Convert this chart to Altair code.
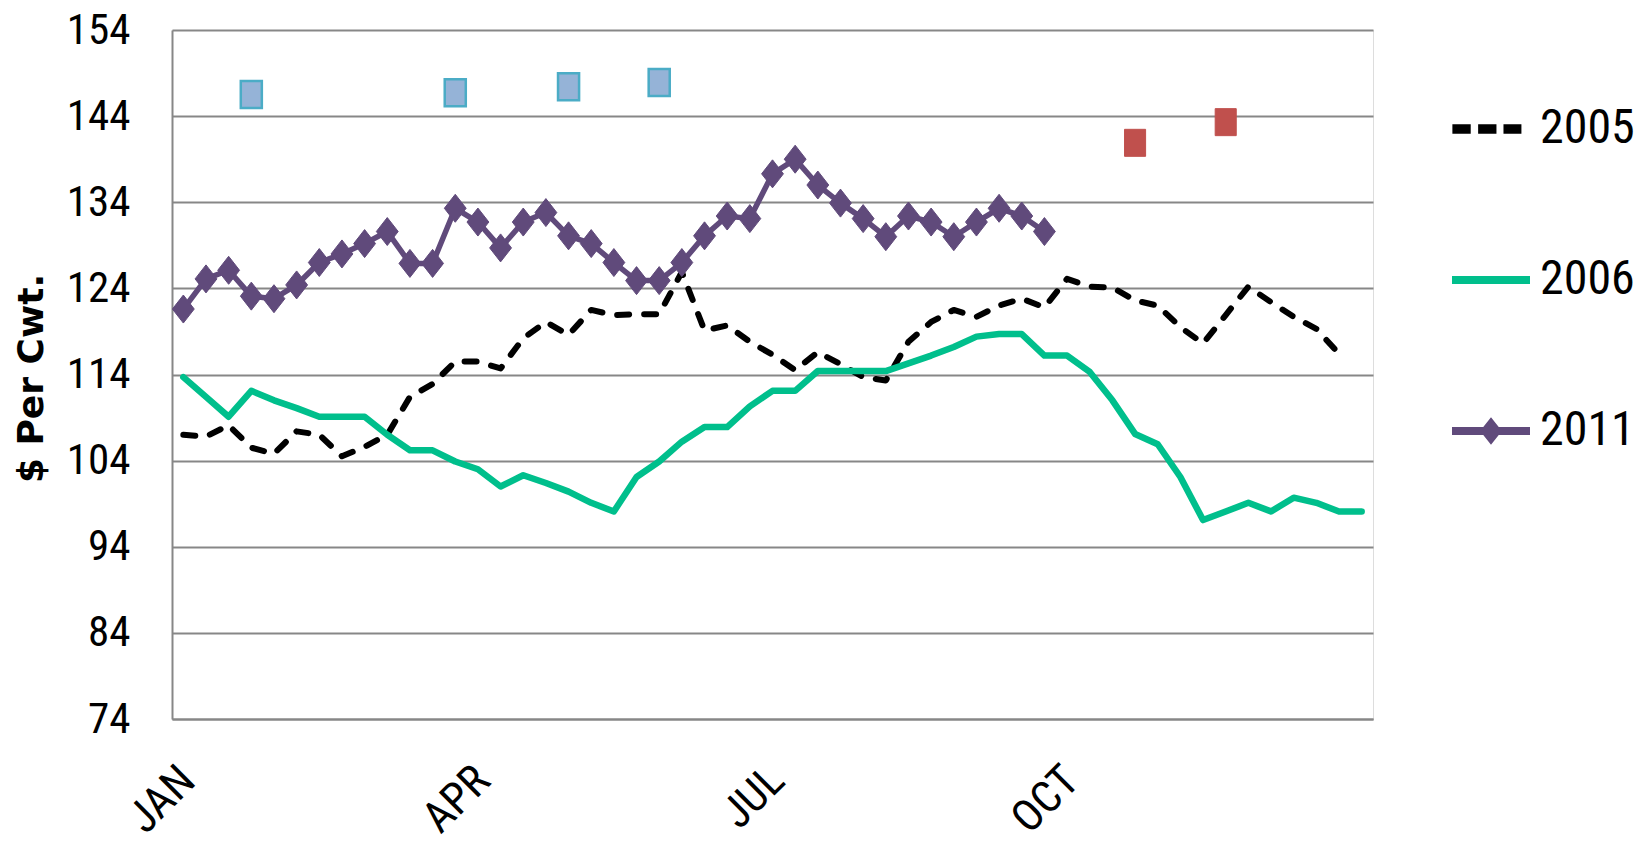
import altair as alt
import pandas as pd

# ---------------- data ----------------
series_names = ["2005", "2006", "2011"]
series_colors = ["#000000", "#00BF8C", "#604A7B"]

y2005 = [107.0, 106.8, 108.1, 105.5, 104.8, 107.4, 107.0, 104.5, 105.6, 107.0,
         111.4, 112.9, 115.5, 115.5, 114.7, 118.2, 120.1, 118.6, 121.5, 120.9,
         121.0, 121.0, 125.9, 119.1, 119.7, 117.8, 116.3, 114.5, 116.6, 115.2,
         113.7, 113.3, 117.8, 120.1, 121.5, 120.7, 122.0, 122.8, 121.8, 125.1,
         124.2, 124.1, 122.6, 122.0, 119.5, 117.6, 120.9, 124.2, 122.4, 120.7,
         119.3, 116.4]

y2006 = [113.7, 111.4, 109.1, 112.1, 111.0, 110.1, 109.1, 109.1, 109.1, 107.0,
         105.2, 105.2, 103.9, 103.0, 101.0, 102.3, 101.4, 100.4, 99.1, 98.1,
         102.1, 103.9, 106.2, 107.9, 107.9, 110.3, 112.1, 112.1, 114.4, 114.4,
         114.4, 114.4, 115.3, 116.2, 117.2, 118.4, 118.7, 118.7, 116.2, 116.2,
         114.3, 111.0, 107.1, 105.9, 102.1, 97.1, 98.1, 99.1, 98.1, 99.7,
         99.1, 98.1, 98.1]

y2011 = [121.6, 125.1, 126.1, 123.1, 122.8, 124.4, 127.0, 128.0, 129.2, 130.6,
         126.9, 126.9, 133.3, 131.7, 128.7, 131.7, 132.8, 130.1, 129.2, 127.0,
         124.9, 124.9, 127.0, 130.1, 132.4, 132.1, 137.3, 139.0, 136.0, 133.9,
         132.1, 130.0, 132.4, 131.7, 130.0, 131.7, 133.3, 132.4, 130.6]

blue_weeks = [3, 12, 17, 21]
blue_values = [146.5, 146.7, 147.4, 147.9]
red_weeks = [42, 46]
red_values = [140.9, 143.3]

month_labels = ["JAN", "APR", "JUL", "OCT"]
month_weeks = [0, 13, 26, 39]
y_ticks = [74, 84, 94, 104, 114, 124, 134, 144, 154]

# ---------------- tables ----------------
def frame(vals, name):
    return pd.DataFrame({"week": list(range(len(vals))), "price": vals, "series": name})

df05 = frame(y2005, "2005")
df06 = frame(y2006, "2006")
df11 = frame(y2011, "2011")
df_all = pd.concat([df05, df06, df11], ignore_index=True)
df_blue = pd.DataFrame({"week": blue_weeks, "price": blue_values})
df_red = pd.DataFrame({"week": red_weeks, "price": red_values})

FONT = "'Roboto Condensed', 'DejaVu Sans Condensed', Roboto, sans-serif"
GRID = "#878787"

label_expr = " : ".join(
    f"datum.value == {w} ? '{m}'" for w, m in zip(month_weeks, month_labels)
) + " : ''"

x_enc = alt.X(
    "week:Q",
    scale=alt.Scale(domain=[-0.5, 52.5], nice=False, zero=False),
    axis=alt.Axis(
        values=month_weeks, labelExpr=label_expr, title=None, grid=False, ticks=False,
        domainColor=GRID, domainWidth=2, labelFont=FONT, labelFontSize=44,
        labelColor="#000000", labelAngle=-45, labelAlign="right", labelBaseline="top",
        labelPadding=39, labelOffset=-11,
    ),
)
y_enc = alt.Y(
    "price:Q",
    scale=alt.Scale(domain=[74, 154], nice=False, zero=False),
    axis=alt.Axis(
        values=y_ticks, title="$ Per Cwt.", grid=True, gridColor=GRID, gridWidth=2,
        ticks=False, domainColor=GRID, domainWidth=2, labelFont=FONT,
        labelFontSize=43, labelColor="#000000", labelPadding=42,
        titleFont="DejaVu Sans", titleFontWeight="bold", titleFontSize=36,
        titleColor="#000000", titleX=-130, titleY=348, titleAngle=-90,
        titleAlign="center", titleBaseline="alphabetic",
    ),
)

diamond = "M0,-1 L0.78,0 L0,1 L-0.78,0 Z"
rect = "M-0.78,-1 L0.78,-1 L0.78,1 L-0.78,1 Z"

line05 = alt.Chart(df05).mark_line(
    color=series_colors[0], strokeWidth=6, strokeDash=[12, 15],
    strokeCap="round", strokeJoin="round",
).encode(x=x_enc, y=y_enc)

line06 = alt.Chart(df06).mark_line(
    color=series_colors[1], strokeWidth=6.5, strokeJoin="round", strokeCap="round"
).encode(x=x_enc, y=y_enc)

line11 = alt.Chart(df11).mark_line(
    color=series_colors[2], strokeWidth=5.5, strokeJoin="round"
).encode(x=x_enc, y=y_enc)

pts11 = alt.Chart(df11).mark_point(
    shape=diamond, size=784, filled=True, fill=series_colors[2],
    stroke=series_colors[2], strokeWidth=1, opacity=1,
).encode(x=x_enc, y=y_enc)

blue = alt.Chart(df_blue).mark_point(
    shape=rect, size=729, filled=True, fill="#95B3D7", stroke="#4BACC6",
    strokeWidth=2.5, opacity=1,
).encode(x=x_enc, y=y_enc)

red = alt.Chart(df_red).mark_point(
    shape=rect, size=729, filled=True, fill="#C0504D", stroke="#C0504D",
    strokeWidth=1, opacity=1,
).encode(x=x_enc, y=y_enc)

# legend symbols (unit space, r = 39 px)
leg_2005 = ("M-0.99,-0.12 L-0.52,-0.12 L-0.52,0.12 L-0.99,0.12 Z "
            "M-0.33,-0.12 L0.14,-0.12 L0.14,0.12 L-0.33,0.12 Z "
            "M0.32,-0.12 L0.78,-0.12 L0.78,0.12 L0.32,0.12 Z")
leg_2006 = "M-1,-0.1 L1,-0.1 L1,0.1 L-1,0.1 Z"
leg_2011 = ("M-1,-0.1 L1,-0.1 L1,0.1 L-1,0.1 Z "
            "M0,-0.35 L0.28,0 L0,0.35 L-0.28,0 Z")
legend_paths = [leg_2005, leg_2006, leg_2011]

leg = alt.Legend(
    title=None, orient="none", legendX=1280, legendY=60, direction="vertical",
    symbolSize=6084, symbolStrokeWidth=0, labelFont=FONT, labelFontSize=48,
    labelColor="#000000", labelOffset=10, rowPadding=88, padding=0,
    symbolOpacity=1, labelLimit=0,
)

legend_layer = alt.Chart(df_all).transform_filter("false").mark_point(
    filled=True, opacity=1
).encode(
    x=x_enc, y=y_enc,
    color=alt.Color("series:N", scale=alt.Scale(domain=series_names, range=series_colors), legend=leg),
    shape=alt.Shape("series:N", scale=alt.Scale(domain=series_names, range=legend_paths), legend=leg),
)

chart = alt.layer(
    line05, line06, line11, pts11, blue, red, legend_layer
).properties(
    width=1201, height=689,
    autosize=alt.AutoSizeParams(type="none"),
    padding={"left": 164, "top": 22, "right": 263, "bottom": 129},
).configure_view(stroke=None).configure(background="white")

chart.save("out.html", embed_options={"renderer": "svg", "actions": False})
